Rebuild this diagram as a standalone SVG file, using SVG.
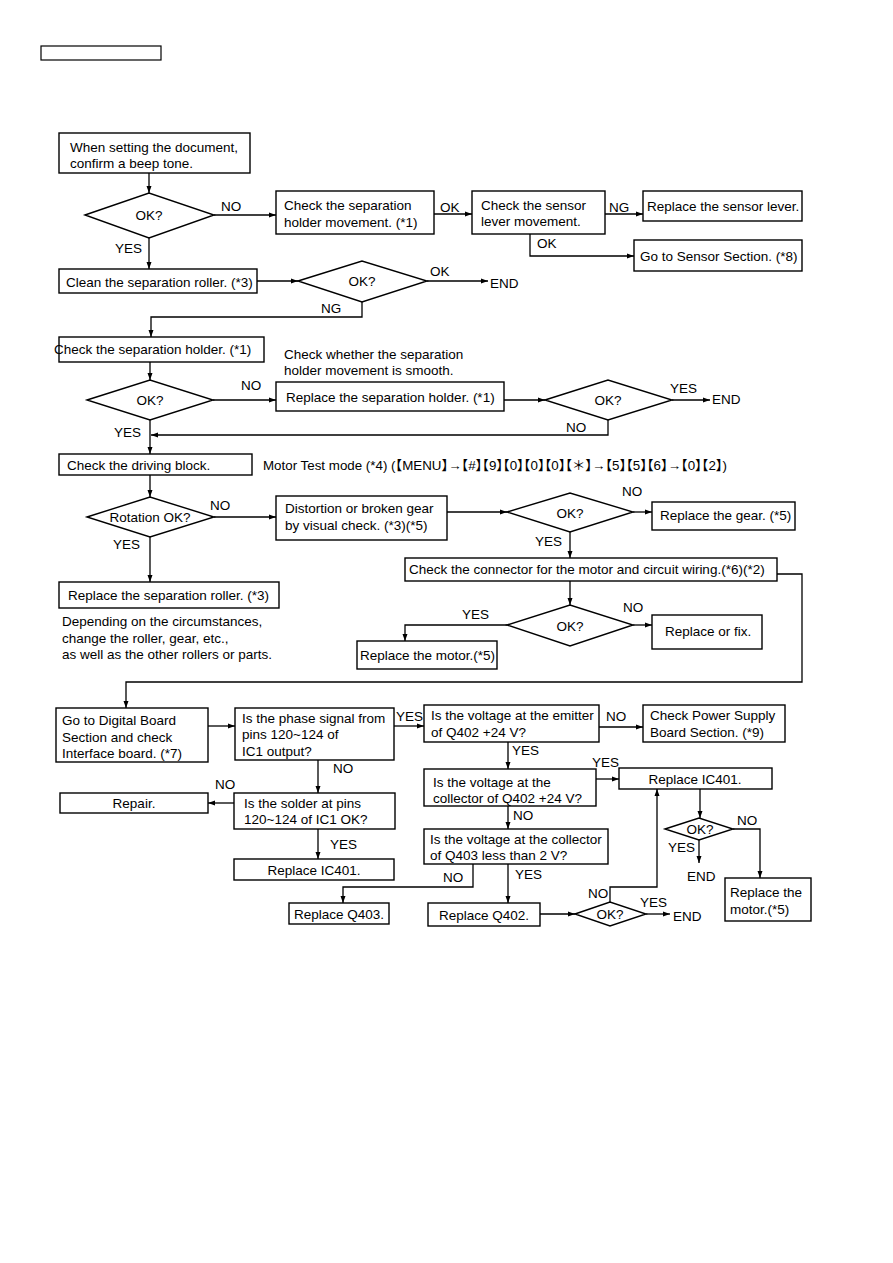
<svg xmlns="http://www.w3.org/2000/svg" width="893" height="1263" viewBox="0 0 893 1263">
<style>
.bx{fill:#fff;stroke:#000;stroke-width:1.4}
.dm{fill:#fff;stroke:#000;stroke-width:1.4}
.ln{fill:none;stroke:#000;stroke-width:1.3}
text{font-family:"Liberation Sans",Arial,sans-serif;font-size:13.5px;fill:#000}
.c{text-anchor:middle}
.mt{font-family:"Liberation Sans","Noto Sans CJK JP",sans-serif;font-size:13px;font-feature-settings:"halt"}
</style>
<defs>
<marker id="ah" markerUnits="userSpaceOnUse" markerWidth="8" markerHeight="6" refX="7" refY="3" orient="auto">
<path d="M0,0.5 L7,3 L0,5.5 z" fill="#000"/>
</marker>
</defs>
<rect x="0" y="0" width="893" height="1263" fill="#fff"/>
<rect id="header" x="41" y="46" width="120" height="14" fill="none" stroke="#000" stroke-width="1.2"/>

<g id="connectors" class="ln" marker-end="url(#ah)">
<path d="M149,173 V193"/>
<path d="M214,215 H276"/>
<path d="M434,214 H472"/>
<path d="M605,214 H643"/>
<path d="M530,234 V256 H634"/>
<path d="M149,238 V269"/>
<path d="M257,281 H298"/>
<path d="M427,281 H488"/>
<path d="M362,302 V317 H151 V337"/>
<path d="M150,362 V380"/>
<path d="M213,400 H276"/>
<path d="M504,400 H545"/>
<path d="M672,400 H710"/>
<path d="M608,420 V435 H151"/>
<path d="M150,420 V454"/>
<path d="M150,475 V497"/>
<path d="M214,517 H276"/>
<path d="M150,537 V582"/>
<path d="M447,512 H507"/>
<path d="M633,512 H652"/>
<path d="M570,532 V558"/>
<path d="M570,581 V605"/>
<path d="M633,625 H652"/>
<path d="M507,625 H405 V641"/>
<path d="M777,574 H802 V682 H126 V708"/>
<path d="M208,726 H235"/>
<path d="M394,726 H424"/>
<path d="M599,727 H643"/>
<path d="M508,742 V769"/>
<path d="M596,779 H619"/>
<path d="M508,806 V829"/>
<path d="M700,789 V818"/>
<path d="M733,829 H760 V878"/>
<path d="M699,840 V863"/>
<path d="M473,864 V887 H343 V903"/>
<path d="M508,864 V903"/>
<path d="M540,914 H575"/>
<path d="M646,914 H670"/>
<path d="M610,902 V887 H657 V789"/>
<path d="M318,760 V793"/>
<path d="M234,803 H208"/>
<path d="M318,829 V859"/>
</g>

<g id="edge-labels">
<text x="221" y="211">NO</text>
<text x="440" y="212">OK</text>
<text x="609" y="212">NG</text>
<text x="537" y="248">OK</text>
<text x="115" y="253">YES</text>
<text x="430" y="276">OK</text>
<text x="490" y="288">END</text>
<text x="321" y="313">NG</text>
<text x="241" y="390">NO</text>
<text x="670" y="393">YES</text>
<text x="712" y="404">END</text>
<text x="566" y="432">NO</text>
<text x="114" y="437">YES</text>
<text x="210" y="510">NO</text>
<text x="622" y="496">NO</text>
<text x="535" y="546">YES</text>
<text x="113" y="549">YES</text>
<text x="462" y="619">YES</text>
<text x="623" y="612">NO</text>
<text x="396" y="721">YES</text>
<text x="606" y="721">NO</text>
<text x="512" y="755">YES</text>
<text x="592" y="767">YES</text>
<text x="333" y="773">NO</text>
<text x="215" y="789">NO</text>
<text x="513" y="820">NO</text>
<text x="737" y="825">NO</text>
<text x="330" y="849">YES</text>
<text x="668" y="852">YES</text>
<text x="515" y="879">YES</text>
<text x="687" y="881">END</text>
<text x="443" y="882">NO</text>
<text x="588" y="898">NO</text>
<text x="640" y="907">YES</text>
<text x="673" y="921">END</text>
</g>

<g id="n-start"><rect class="bx" x="59" y="133" width="191" height="40"/><text x="70" y="152">When setting the document,</text><text x="70" y="168">confirm a beep tone.</text></g>
<g id="d-ok1"><polygon class="dm" points="85,215 149,193 214,215 149,238"/><text class="c" x="149" y="220">OK?</text></g>
<g id="n-sep-move"><rect class="bx" x="276" y="191" width="158" height="43"/><text x="284" y="210">Check the separation</text><text x="284" y="227">holder movement. (*1)</text></g>
<g id="n-sensor-move"><rect class="bx" x="472" y="191" width="133" height="43"/><text x="481" y="210">Check the sensor</text><text x="481" y="226">lever movement.</text></g>
<g id="n-replace-sensor"><rect class="bx" x="643" y="191" width="159" height="30"/><text x="647" y="211">Replace the sensor lever.</text></g>
<g id="n-sensor-section"><rect class="bx" x="634" y="240" width="168" height="31"/><text x="640" y="261">Go to Sensor Section. (*8)</text></g>
<g id="n-clean-roller"><rect class="bx" x="59" y="269" width="198" height="24"/><text x="66" y="287">Clean the separation roller. (*3)</text></g>
<g id="d-ok2"><polygon class="dm" points="298,281 362,261 427,281 362,302"/><text class="c" x="362" y="286">OK?</text></g>
<g id="n-check-holder"><rect class="bx" x="59" y="337" width="205" height="25"/><text x="54" y="354">Check the separation holder. (*1)</text></g>
<g id="note-smooth"><text x="284" y="359">Check whether the separation</text><text x="284" y="375">holder movement is smooth.</text></g>
<g id="d-ok3"><polygon class="dm" points="87,400 150,380 213,400 150,420"/><text class="c" x="150" y="405">OK?</text></g>
<g id="n-replace-holder"><rect class="bx" x="276" y="382" width="228" height="29"/><text x="286" y="402">Replace the separation holder. (*1)</text></g>
<g id="d-ok4"><polygon class="dm" points="545,400 608,380 672,400 608,420"/><text class="c" x="608" y="405">OK?</text></g>
<g id="n-driving"><rect class="bx" x="59" y="454" width="193" height="21"/><text x="67" y="470">Check the driving block.</text></g>
<g id="note-motor-test"><text class="mt" x="263" y="470" textLength="464" lengthAdjust="spacingAndGlyphs">Motor Test mode (*4) (【MENU】→【#】【9】【0】【0】【0】【＊】→【5】【5】【6】→【0】【2】)</text></g>
<g id="d-rotation"><polygon class="dm" points="87,517 150,497 214,517 150,537"/><text class="c" x="150" y="522">Rotation OK?</text></g>
<g id="n-distortion"><rect class="bx" x="276" y="496" width="171" height="44"/><text x="285" y="513">Distortion or broken gear</text><text x="285" y="530">by visual check. (*3)(*5)</text></g>
<g id="d-ok6"><polygon class="dm" points="507,512 570,493 633,512 570,532"/><text class="c" x="570" y="518">OK?</text></g>
<g id="n-replace-gear"><rect class="bx" x="652" y="502" width="143" height="28"/><text x="660" y="520">Replace the gear. (*5)</text></g>
<g id="n-connector"><rect class="bx" x="405" y="558" width="372" height="23"/><text x="409" y="574">Check the connector for the motor and circuit wiring.(*6)(*2)</text></g>
<g id="d-ok7"><polygon class="dm" points="507,625 570,605 633,625 570,646"/><text class="c" x="570" y="631">OK?</text></g>
<g id="n-replace-fix"><rect class="bx" x="652" y="615" width="110" height="34"/><text x="665" y="636">Replace or fix.</text></g>
<g id="n-replace-motor1"><rect class="bx" x="357" y="641" width="140" height="28"/><text x="360" y="660">Replace the motor.(*5)</text></g>
<g id="n-replace-roller"><rect class="bx" x="59" y="582" width="220" height="26"/><text x="68" y="600">Replace the separation roller. (*3)</text></g>
<g id="note-depending"><text x="62" y="626">Depending on the circumstances,</text><text x="62" y="643">change the roller, gear, etc.,</text><text x="62" y="659">as well as the other rollers or parts.</text></g>
<g id="n-digital"><rect class="bx" x="56" y="708" width="152" height="54"/><text x="62" y="725">Go to Digital Board</text><text x="62" y="742">Section and check</text><text x="62" y="758">Interface board. (*7)</text></g>
<g id="n-phase"><rect class="bx" x="235" y="708" width="159" height="52"/><text x="242" y="723">Is the phase signal from</text><text x="242" y="739">pins 120~124 of</text><text x="242" y="756">IC1 output?</text></g>
<g id="n-emitter"><rect class="bx" x="424" y="705" width="175" height="37"/><text x="431" y="720">Is the voltage at the emitter</text><text x="431" y="737">of Q402 +24 V?</text></g>
<g id="n-power"><rect class="bx" x="643" y="705" width="142" height="37"/><text x="650" y="720">Check Power Supply</text><text x="650" y="737">Board Section. (*9)</text></g>
<g id="n-coll402"><rect class="bx" x="424" y="769" width="172" height="37"/><text x="433" y="787">Is the voltage at the</text><text x="433" y="803">collector of Q402 +24 V?</text></g>
<g id="n-ic401-r"><rect class="bx" x="619" y="768" width="153" height="21"/><text class="c" x="695" y="784">Replace IC401.</text></g>
<g id="d-ok8"><polygon class="dm" points="665,829 699,818 733,829 699,840"/><text class="c" x="700" y="834">OK?</text></g>
<g id="n-replace-motor2"><rect class="bx" x="725" y="878" width="86" height="43"/><text x="730" y="897">Replace the</text><text x="730" y="914">motor.(*5)</text></g>
<g id="n-coll403"><rect class="bx" x="424" y="829" width="184" height="35"/><text x="430" y="844">Is the voltage at the collector</text><text x="430" y="860">of Q403 less than 2 V?</text></g>
<g id="n-q403"><rect class="bx" x="289" y="903" width="100" height="21"/><text class="c" x="339" y="919">Replace Q403.</text></g>
<g id="n-q402"><rect class="bx" x="428" y="903" width="112" height="23"/><text class="c" x="484" y="920">Replace Q402.</text></g>
<g id="d-ok9"><polygon class="dm" points="575,914 610,902 646,914 610,926"/><text class="c" x="610" y="919">OK?</text></g>
<g id="n-solder"><rect class="bx" x="234" y="793" width="161" height="36"/><text x="244" y="808">Is the solder at pins</text><text x="244" y="824">120~124 of IC1 OK?</text></g>
<g id="n-repair"><rect class="bx" x="60" y="793" width="148" height="20"/><text class="c" x="134" y="808">Repair.</text></g>
<g id="n-ic401-l"><rect class="bx" x="234" y="859" width="160" height="21"/><text class="c" x="314" y="875">Replace IC401.</text></g>
</svg>
